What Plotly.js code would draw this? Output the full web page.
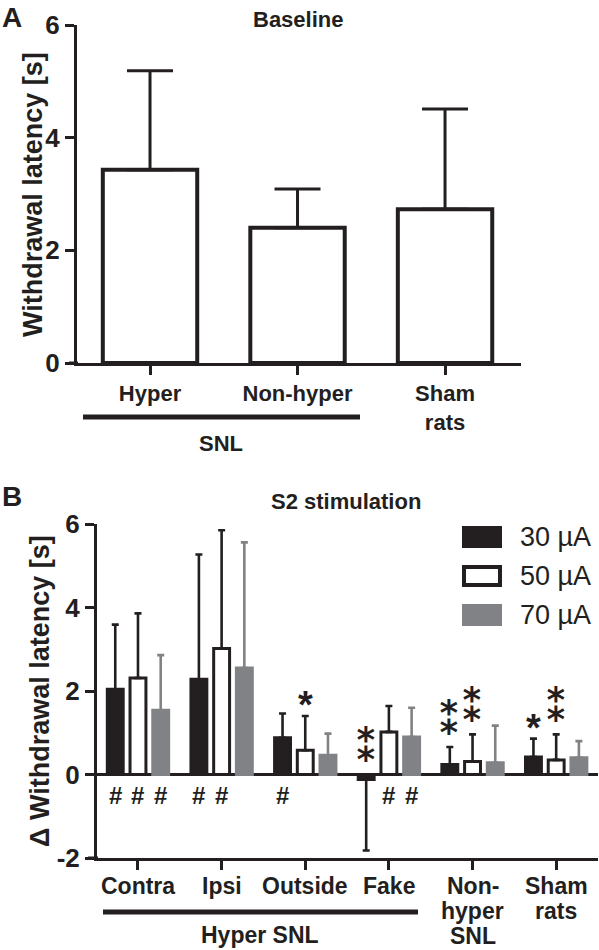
<!DOCTYPE html>
<html>
<head>
<meta charset="utf-8">
<script src="https://cdn.plot.ly/plotly-3.0.1.min.js"></script>
<style>
html,body{margin:0;padding:0;background:#fff;}
#chart{width:599px;height:950px;}
</style>
</head>
<body>
<div id="chart"></div>
<script>
// ---------- DATA ----------
const groupsA = ['Hyper', 'Non-hyper', 'Sham<br>rats'];
const baselineMean = [3.43, 2.40, 2.73];
const baselineErr = [1.76, 0.69, 1.78];
const yTicksA = [0, 2, 4, 6];

const groupsB = ['Contra', 'Ipsi', 'Outside', 'Fake', 'Non-<br>hyper<br>SNL', 'Sham<br>rats'];
const seriesNames = ['30 µA', '50 µA', '70 µA'];
const mean30 = [2.04, 2.28, 0.88, -0.12, 0.24, 0.42];
const errUp30 = [1.55, 2.99, 0.58, 0.00, 0.42, 0.44];
const errDown30 = [0, 0, 0, 1.70, 0, 0];
const mean50 = [2.31, 3.02, 0.58, 1.02, 0.31, 0.35];
const errUp50 = [1.55, 2.83, 0.82, 0.62, 0.65, 0.61];
const mean70 = [1.54, 2.55, 0.46, 0.90, 0.28, 0.40];
const errUp70 = [1.32, 3.01, 0.52, 0.70, 0.89, 0.40];
const yTicksB = [-2, 0, 2, 4, 6];
const yTickTextB = ['-2', '0', '2', '4', '6'];

// significance marks: [group index, series index]
const hashMarks = [[0,0],[0,1],[0,2],[1,0],[1,1],[2,0],[3,1],[3,2]];
// [group index, series index, number of asterisks]
const starMarks = [[2,1,1],[3,0,2],[4,0,2],[4,1,2],[5,0,1],[5,1,2]];

// ---------- STYLE ----------
const BLACK = '#231f20';
const GRAY = '#808285';
const FONT = 'Liberation Sans, Arial, sans-serif';
const W = 599, H = 950;
const px = x => x / W;
const py = y => 1 - y / H;
const bold = (size) => ({family: FONT, size: size, color: BLACK, weight: 'bold'});

const means = [mean30, mean50, mean70];
const ups = [errUp30, errUp50, errUp70];
const downs = [errDown30, mean50.map(() => 0), mean70.map(() => 0)];
const fills = [BLACK, '#ffffff', GRAY];
const lines = [BLACK, BLACK, GRAY];
const errCols = [BLACK, BLACK, GRAY];

const traces = [];
traces.push({
  type: 'bar', x: groupsA, y: baselineMean, xaxis: 'x', yaxis: 'y',
  width: 0.64,
  marker: {color: '#ffffff', line: {color: BLACK, width: 4}},
  error_y: {type: 'data', symmetric: false, array: baselineErr, arrayminus: baselineErr.map(() => 0),
            color: BLACK, thickness: 3, width: 23},
  showlegend: false, hoverinfo: 'skip'
});
for (let s = 0; s < 3; s++) {
  traces.push({
    type: 'bar', name: seriesNames[s], x: groupsB, y: means[s], xaxis: 'x2', yaxis: 'y2',
    marker: {color: fills[s], line: {color: lines[s], width: 3}},
    error_y: {type: 'data', symmetric: false, array: ups[s], arrayminus: downs[s],
              color: errCols[s], thickness: 2.6, width: 3.5},
    showlegend: false, hoverinfo: 'skip'
  });
}

const BARGAP = 0.185;
const slot = (1 - BARGAP) / 3;
const offsets = [-slot, 0, slot];

const annotations = [];
const shapes = [];

// Panel letters and titles
annotations.push({xref:'paper', yref:'paper', x:px(12), y:py(18), text:'A', showarrow:false,
  font:bold(28), xanchor:'center', yanchor:'middle'});
annotations.push({xref:'paper', yref:'paper', x:px(298), y:py(20), text:'Baseline', showarrow:false,
  font:bold(22), xanchor:'center', yanchor:'middle'});
annotations.push({xref:'paper', yref:'paper', x:px(12), y:py(496), text:'B', showarrow:false,
  font:bold(28), xanchor:'center', yanchor:'middle'});
annotations.push({xref:'paper', yref:'paper', x:px(346), y:py(502), text:'S2 stimulation', showarrow:false,
  font:bold(22), xanchor:'center', yanchor:'middle'});
// y titles
annotations.push({xref:'paper', yref:'paper', x:px(33), y:py(195), text:'Withdrawal latency [s]', showarrow:false,
  textangle:-90, font:bold(27), xanchor:'center', yanchor:'middle'});
annotations.push({xref:'paper', yref:'paper', x:px(40), y:py(691), text:'Δ Withdrawal latency [s]', showarrow:false,
  textangle:-90, font:bold(27), xanchor:'center', yanchor:'middle'});
// group brackets
shapes.push({type:'line', xref:'paper', yref:'paper', x0:px(83), x1:px(360), y0:py(417), y1:py(417), line:{color:BLACK, width:5}});
annotations.push({xref:'paper', yref:'paper', x:px(221), y:py(443), text:'SNL', showarrow:false,
  font:bold(22), xanchor:'center', yanchor:'middle'});
shapes.push({type:'line', xref:'paper', yref:'paper', x0:px(103), x1:px(418), y0:py(912), y1:py(912), line:{color:BLACK, width:5}});
annotations.push({xref:'paper', yref:'paper', x:px(260), y:py(935), text:'Hyper SNL', showarrow:false,
  font:bold(23), xanchor:'center', yanchor:'middle'});
// axis stubs (x axis lines extending left to tick length)
shapes.push({type:'line', xref:'paper', yref:'y', x0:px(69), x1:px(78), y0:0, y1:0, line:{color:BLACK, width:3}});
shapes.push({type:'line', xref:'paper', yref:'y2', x0:px(88), x1:px(98), y0:-2, y1:-2, line:{color:BLACK, width:3}});

// panel B category labels (tight line spacing as in the original)
groupsB.forEach((lab, g) => {
  lab.split('<br>').forEach((ln, i) => {
    annotations.push({xref:'x2', yref:'paper', x:g, y:py(886 + 25 * i), text: ln, showarrow:false,
      font:bold(23), xanchor:'center', yanchor:'middle'});
  });
});

// hash marks
hashMarks.forEach(([g, s]) => {
  annotations.push({xref:'x2', yref:'y2', x: g + offsets[s], y: -0.5, text:'#', showarrow:false,
    font:bold(24), xanchor:'center', yanchor:'middle'});
});
// asterisks (single '*' or the stacked double-asterisk character)
starMarks.forEach(([g, s, n]) => {
  const base = Math.max(means[s][g], 0) + ups[s][g];
  if (n === 1) {
    annotations.push({xref:'x2', yref:'y2', x: g + offsets[s], y: base + 0.45, text:'*', showarrow:false,
      font:bold(38), xanchor:'center', yanchor:'middle', yshift: -8});
  } else {
    annotations.push({xref:'x2', yref:'y2', x: g + offsets[s], y: base + 0.69, text:'⁑', showarrow:false,
      font:{family:'DejaVu Sans', size:44, color:BLACK, weight:'bold'}, xanchor:'center', yanchor:'middle'});
  }
});

// custom legend
const legY = [537, 576, 615];
for (let s = 0; s < 3; s++) {
  shapes.push({type:'rect', xref:'paper', yref:'paper', x0:px(464), x1:px(500), y0:py(legY[s]-9), y1:py(legY[s]+9),
    fillcolor: fills[s], line:{color: lines[s], width: 4}});
  annotations.push({xref:'paper', yref:'paper', x:px(518), y:py(legY[s]), text: seriesNames[s], showarrow:false,
    font:{family:FONT, size:27, color:BLACK}, xanchor:'left', yanchor:'middle'});
}

const axisCommon = {
  showline: true, linecolor: BLACK, linewidth: 3, ticks: 'outside', ticklen: 9, tickwidth: 3, tickcolor: BLACK,
  showgrid: false, zeroline: false, fixedrange: true
};

const layout = {
  width: W, height: H,
  margin: {l: 0, r: 0, t: 0, b: 0},
  paper_bgcolor: '#ffffff', plot_bgcolor: '#ffffff',
  font: {family: FONT, color: BLACK},
  barmode: 'group', bargap: BARGAP, bargroupgap: 0.3,
  showlegend: false,
  xaxis: Object.assign({}, axisCommon, {domain: [px(77), px(521)], range: [-0.495, 2.515], anchor: 'y',
    type: 'category', tickfont: bold(22)}),
  yaxis: Object.assign({}, axisCommon, {domain: [py(363), py(25)], range: [0, 6], anchor: 'x',
    tickvals: yTicksA, tickfont: bold(26)}),
  xaxis2: Object.assign({}, axisCommon, {domain: [px(97), px(598)], range: [-0.49, 5.5], anchor: 'y2',
    type: 'category', showticklabels: false}),
  yaxis2: Object.assign({}, axisCommon, {domain: [py(858), py(524)], range: [-2, 6], anchor: 'x2',
    tickvals: yTicksB, ticktext: yTickTextB, zeroline: true, zerolinecolor: BLACK, zerolinewidth: 3,
    tickfont: bold(26)}),
  annotations: annotations,
  shapes: shapes
};

Plotly.newPlot('chart', traces, layout, {staticPlot: true, displayModeBar: false});
</script>
</body>
</html>
